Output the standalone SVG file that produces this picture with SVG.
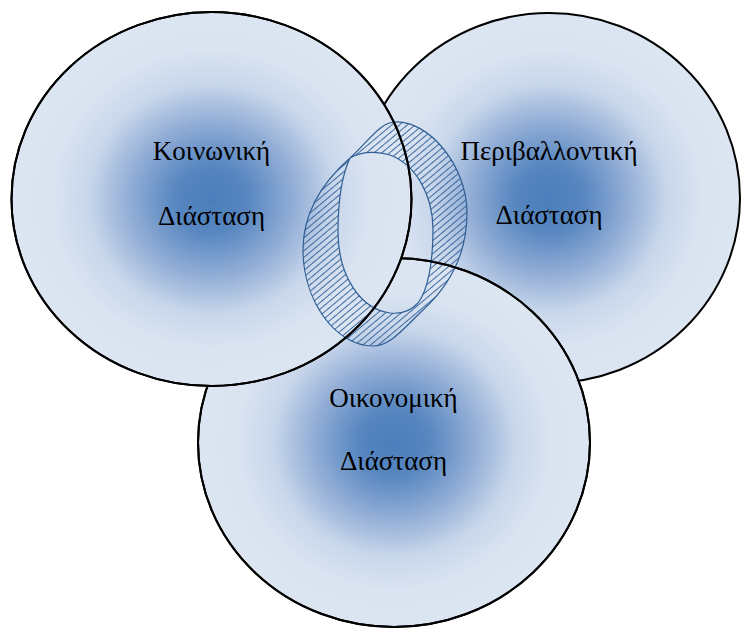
<svg xmlns="http://www.w3.org/2000/svg" width="741" height="628" viewBox="0 0 741 628">
  <defs>
    <radialGradient id="blueGlow" cx="50%" cy="50%" r="50%">
      <stop offset="0" stop-color="#4a7ebb"/>
      <stop offset="0.18" stop-color="#5786c0"/>
      <stop offset="0.42" stop-color="#94afd7"/>
      <stop offset="0.62" stop-color="#c9d7eb"/>
      <stop offset="0.8" stop-color="#d9e3f1"/>
      <stop offset="1" stop-color="#dce6f2"/>
    </radialGradient>
    <pattern id="hatch" width="5" height="5" patternUnits="userSpaceOnUse" patternTransform="rotate(-40)">
      <line x1="0" y1="2.5" x2="5" y2="2.5" stroke="#2f5e95" stroke-width="0.9"/>
    </pattern>
    <mask id="outsideLeft">
      <rect x="0" y="0" width="741" height="628" fill="#fff"/>
      <ellipse cx="211.5" cy="199" rx="200" ry="187" fill="#000"/>
    </mask>
    <style>
      .circle { fill: url(#blueGlow); stroke: #000; stroke-width: 2; }
      .edge { fill: none; stroke: #000; stroke-width: 2; }
      .label { font-family: "Liberation Serif", "Times New Roman", serif; font-size: 27px; fill: #000; text-anchor: middle; }
      .ring { fill: url(#hatch); fill-rule: evenodd; stroke: #2f5e95; stroke-width: 1.2; }
    </style>
  </defs>

  <g id="node-environmental">
    <ellipse class="circle" cx="549" cy="198" rx="191" ry="185"/>
    <text class="label" x="549" y="160">Περιβαλλοντική</text>
    <text class="label" x="549" y="224">Διάσταση</text>
  </g>

  <g id="node-economic">
    <ellipse class="circle" cx="394" cy="442.5" rx="196" ry="184.5"/>
    <text class="label" x="393.5" y="407">Οικονομική</text>
    <text class="label" x="393.5" y="470">Διάσταση</text>
  </g>

  <g id="node-social">
    <ellipse class="circle" cx="211.5" cy="199" rx="200" ry="187"/>
    <text class="label" x="211.5" y="160">Κοινωνική</text>
    <text class="label" x="211.5" y="224.5">Διάσταση</text>
  </g>

  <g id="node-ring">
    <path class="ring" d="M395,122 C428,120 467,165 467,213 C467,255 448,287 423,310 C402,330 390,346 373,346 C335,346 303,300 303,250 C303,210 325,180 350,158 C368,142 380,122 395,122 Z
      M350,158 C362,151 378,151 390,155 C416,165 433,195 433,230 C433,262 428,290 418,303 C410,312 400,314 390,313 C360,309 338,275 338,232 C338,200 342,175 350,158 Z"/>
  </g>

  <g id="connectors">
    <ellipse class="edge" cx="211.5" cy="199" rx="200" ry="187"/>
    <ellipse class="edge" cx="394" cy="442.5" rx="196" ry="184.5" mask="url(#outsideLeft)"/>
  </g>
</svg>
